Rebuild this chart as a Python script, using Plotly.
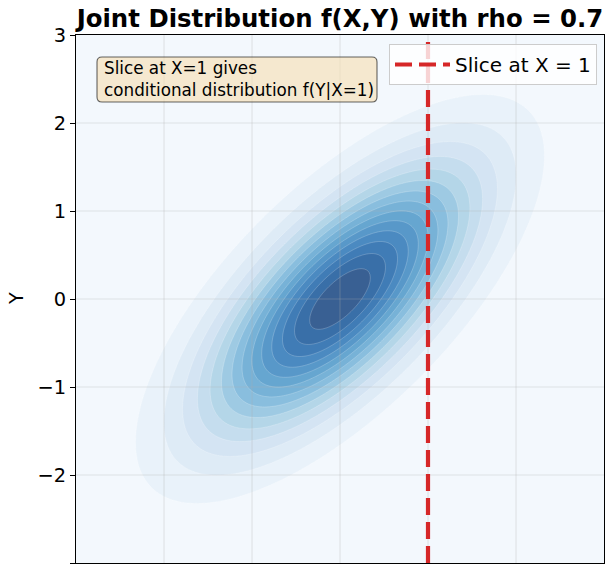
import numpy as np
import plotly.graph_objects as go

# ---- data ----
rho = 0.7
mu_x, mu_y = 0.0, 0.0
sigma_x, sigma_y = 1.0, 1.0
x_range = [-3, 3]
y_range = [-3, 3]
tick_vals = [-3, -2, -1, 0, 1, 2, 3]
level_start, level_end, level_step = 0.015, 0.21, 0.015
slice_x = 1
title_text = "Joint Distribution f(X,Y) with rho = 0.7"
legend_label = "Slice at X = 1"
note_text = "Slice at X=1 gives<br>conditional distribution f(Y|X=1)"

# ---- density grid ----
xs = np.linspace(x_range[0], x_range[1], 301)
ys = np.linspace(y_range[0], y_range[1], 301)
X, Y = np.meshgrid(xs, ys)
zx = (X - mu_x) / sigma_x
zy = (Y - mu_y) / sigma_y
Q = (zx**2 - 2 * rho * zx * zy + zy**2) / (1 - rho**2)
Z = np.exp(-Q / 2) / (2 * np.pi * sigma_x * sigma_y * np.sqrt(1 - rho**2))

# ---- matplotlib "Blues" colours at band midpoints, alpha 0.8 over white ----
blues = ["#f7fbff", "#deebf7", "#c6dbef", "#9ecae1", "#6baed6",
         "#4292c6", "#2171b5", "#08519c", "#08306b"]
def hex2rgb(h):
    return np.array([int(h[i:i + 2], 16) for i in (1, 3, 5)], float)
anchors = [hex2rgb(h) for h in blues]
def blues_at(t):
    p = t * (len(anchors) - 1)
    i = min(int(np.floor(p)), len(anchors) - 2)
    f = p - i
    return anchors[i] * (1 - f) + anchors[i + 1] * f

n_levels = int(round((level_end - level_start) / level_step)) + 1  # 14
n_bands = n_levels + 1  # 15 incl. background band
colors = []
for j in range(n_bands):
    c = blues_at((j + 0.5) / n_bands)
    c = 0.8 * c + 0.2 * 255
    colors.append("rgb(%d,%d,%d)" % tuple(np.round(c).astype(int)))
colorscale = [[j / (n_bands - 1), colors[j]] for j in range(n_bands)]

fig = go.Figure()
fig.add_trace(go.Contour(
    x=xs, y=ys, z=Z,
    autocontour=False,
    contours=dict(start=level_start, end=level_end, size=level_step, coloring="fill"),
    colorscale=colorscale, showscale=False,
    line=dict(width=0.6, color="rgba(255,255,255,0.35)"),
    hoverinfo="skip", showlegend=False,
))

# grid lines drawn above the filled contours (as in matplotlib)
gx, gy = [], []
for t in tick_vals[1:-1]:
    gx += [t, t, None]
    gy += [y_range[0], y_range[1], None]
gx2, gy2 = [], []
for t in tick_vals[1:-1]:
    gx2 += [x_range[0], x_range[1], None]
    gy2 += [t, t, None]
fig.add_trace(go.Scatter(x=gx + gx2, y=gy + gy2, mode="lines",
                         line=dict(color="rgba(176,176,176,0.3)", width=1.1),
                         hoverinfo="skip", showlegend=False))

fig.add_trace(go.Scatter(
    x=[slice_x, slice_x], y=y_range, mode="lines", name=legend_label,
    line=dict(color="#d62728", width=4.2, dash="17px,7px"),
))

W, H = 606, 564
L, R, T, B = 76, 604, 35, 563
pw, ph = R - L, B - T
def px_x(p):
    return (p - L) / pw
def px_y(p):
    return 1 - (p - T) / ph

# rounded note box
bx0, bx1, by0, by1 = px_x(97), px_x(377), px_y(102), px_y(57)
r = 5 / pw
path = (f"M{bx0 + r},{by0} L{bx1 - r},{by0} Q{bx1},{by0} {bx1},{by0 + r} "
        f"L{bx1},{by1 - r} Q{bx1},{by1} {bx1 - r},{by1} L{bx0 + r},{by1} "
        f"Q{bx0},{by1} {bx0},{by1 - r} L{bx0},{by0 + r} Q{bx0},{by0} {bx0 + r},{by0} Z")
fig.add_shape(type="path", path=path, xref="paper", yref="paper",
              fillcolor="rgba(245,222,179,0.62)",
              line=dict(color="rgba(0,0,0,0.6)", width=1.1), layer="above")

font_family = "DejaVu Sans"
fig.add_annotation(text=note_text, xref="paper", yref="paper",
                   x=px_x(102), y=px_y(79.5), xanchor="left", yanchor="middle",
                   align="left", showarrow=False,
                   font=dict(family=font_family, size=16.8, color="black"))
fig.add_annotation(text="Y", xref="paper", yref="paper", x=px_x(16), y=0.5,
                   xanchor="center", yanchor="middle", textangle=-90, showarrow=False,
                   font=dict(family=font_family, size=19.4, color="black"))

fig.update_layout(
    width=W, height=H,
    margin=dict(l=L, r=W - R, t=T, b=H - B, autoexpand=False),
    paper_bgcolor="white", plot_bgcolor="white",
    title=dict(text=title_text, x=px_x((L + R) / 2), xref="paper", xanchor="center",
               y=1 - 18 / H, yref="container", yanchor="middle",
               font=dict(family=font_family, size=24.4, color="black", weight="bold")),
    font=dict(family=font_family, color="black"),
    showlegend=True,
    legend=dict(x=px_x(597), y=px_y(44), xanchor="right", yanchor="top",
                bgcolor="rgba(255,255,255,0.8)", bordercolor="rgba(204,204,204,1)",
                borderwidth=1, font=dict(family=font_family, size=20),
                itemwidth=55),
)
fig.update_xaxes(range=x_range, tickvals=tick_vals, showgrid=False, zeroline=False,
                 showline=True, mirror=True, linecolor="black", linewidth=1.1,
                 ticks="outside", ticklen=5, tickcolor="black", showticklabels=False,
                 automargin=False)
fig.update_yaxes(range=y_range, tickvals=tick_vals, showgrid=False, zeroline=False,
                 showline=True, mirror=True, linecolor="black", linewidth=1.1,
                 ticks="outside", ticklen=5, tickcolor="black",
                 tickfont=dict(family=font_family, size=19.4, color="black"),
                 automargin=False)

fig.write_html("out.html")
